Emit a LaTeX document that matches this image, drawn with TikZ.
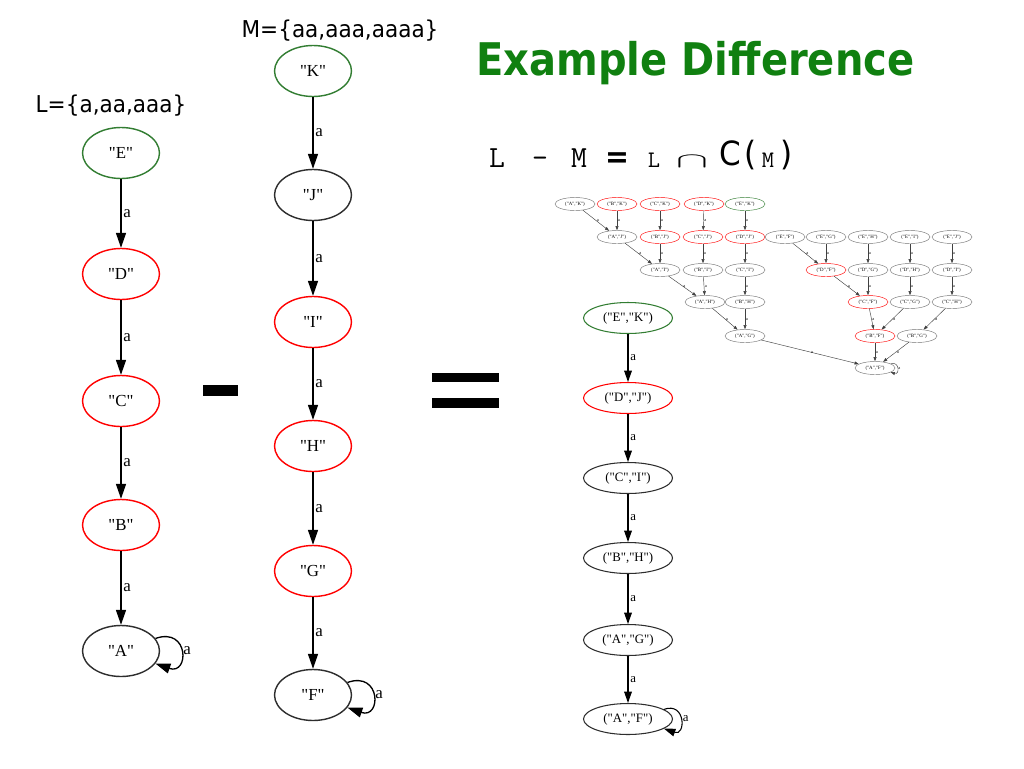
\documentclass[tikz,border=0pt]{standalone}
\usepackage{graphicx}
\usepackage{fontspec}
\setmainfont{Liberation Serif}[Ligatures=TeXOff]
\newfontfamily\labfont[FakeStretch=0.93]{DejaVu Sans}
\newfontfamily\headfont[FakeStretch=0.89]{DejaVu Sans}
\usepackage{tikz}
\usetikzlibrary{shapes.geometric}
\usetikzlibrary{arrows.meta}
\definecolor{titlegreen}{RGB}{16,128,16}
\definecolor{startgreen}{RGB}{50,125,50}
\definecolor{stateline}{RGB}{45,45,45}
\tikzset{state/.style={ellipse, draw=stateline, line width=0.8pt,
                       minimum width=15.4mm, minimum height=10.2mm, inner sep=0pt,
                       font=\fontsize{9.6}{10}\selectfont},
         accept/.style={draw=red},
         start/.style={draw=startgreen},
         pstate/.style={state, line width=0.6pt, minimum width=17.8mm,
                        minimum height=6.2mm, font=\fontsize{7.3}{8}\selectfont},
         tstate/.style={ellipse, draw=black!55, line width=0.25pt, minimum width=8mm,
                        minimum height=2.6mm, inner sep=0pt, font=\fontsize{2.8}{3}\selectfont},
         trans/.style={-{Triangle[length=8.5pt,width=5.7pt]}, line width=0.75pt},
         ptrans/.style={-{Triangle[length=6.5pt,width=4.4pt]}, line width=0.6pt},
         ttrans/.style={-{Triangle[length=2.4pt,width=1.7pt]}, line width=0.25pt, draw=black!75},
         lab/.style={right, inner sep=1pt, font=\fontsize{9.6}{10}\selectfont},
         plab/.style={right, inner sep=1pt, font=\fontsize{7.3}{8}\selectfont},
         tlab/.style={right, inner sep=0.4pt, font=\fontsize{2.5}{3}\selectfont},
         mono/.style={anchor=base, inner sep=0pt, font=\ttfamily\fontsize{17.5}{18}\selectfont},
         smallmono/.style={mono, font=\ttfamily\fontsize{13.5}{14}\selectfont},
         sans/.style={anchor=base, inner sep=0pt, font=\labfont\fontsize{19}{19}\selectfont}}

\begin{document}
\begin{tikzpicture}[x=0.02cm,y=-0.02cm]
\useasboundingbox[fill=white] (0,0) rectangle (1024,768);
% headings
\node[anchor=base west, inner sep=0pt, text=titlegreen, font=\headfont\bfseries\fontsize{25.6}{28}\selectfont] (title) at (476,75) {Example Difference};
\node[anchor=base, inner sep=0pt, font=\labfont\fontsize{13.2}{14}\selectfont] (lset) at (111,112) {L=\{a,aa,aaa\}};
\node[anchor=base, inner sep=0pt, font=\labfont\fontsize{13.2}{14}\selectfont] (mset) at (340,37) {M=\{aa,aaa,aaaa\}};
% L - M = L cap C(M)
\node[mono] (fl) at (497,167) {L};
\node[mono] (fminus) at (540,167) {-};
\node[mono] (fm) at (579,167) {M};
\node[sans, font=\labfont\bfseries\fontsize{17.5}{18}\selectfont] (feq) at (617,167) {=};
\node[smallmono] (fl2) at (654,167) {L};
\node[sans, font=\fontsize{18}{18}\selectfont] (fcap) at (692,167) {\scalebox{1.6}[0.7]{$\cap$}};
\node[sans] (fc) at (730,165) {C};
\node[sans] (fopen) at (751,165) {(};
\node[smallmono] (fm2) at (768,167) {M};
\node[sans] (fclose) at (787,165) {)};
% L
\node[state,start] (e) at (121,153) {"E"};
\node[state,accept] (d) at (121,274) {"D"};
\node[state,accept] (c) at (121,401) {"C"};
\node[state,accept] (b) at (121,525) {"B"};
\node[state] (a) at (121,651) {"A"};
\draw[trans] (e) -- (d) node[lab,midway] {a};
\draw[trans] (d) -- (c) node[lab,midway] {a};
\draw[trans] (c) -- (b) node[lab,midway] {a};
\draw[trans] (b) -- (a) node[lab,midway] {a};
\draw[trans] (a.20) .. controls +(34,-12) and +(34,12) .. (a.-20) node[lab,pos=0.5] {a};
% minus, equals
\fill (203,385) rectangle (238,396);
\fill (432,373) rectangle (499,382);
\fill (432,398) rectangle (499,408);
% M
\node[state,start] (k) at (313,71) {"K"};
\node[state] (j) at (313,195) {"J"};
\node[state,accept] (i) at (313,322) {"I"};
\node[state,accept] (h) at (313,446) {"H"};
\node[state,accept] (g) at (313,571) {"G"};
\node[state] (f) at (313,695) {"F"};
\draw[trans] (k) -- (j) node[lab,midway] {a};
\draw[trans] (j) -- (i) node[lab,midway] {a};
\draw[trans] (i) -- (h) node[lab,midway] {a};
\draw[trans] (h) -- (g) node[lab,midway] {a};
\draw[trans] (g) -- (f) node[lab,midway] {a};
\draw[trans] (f.20) .. controls +(34,-12) and +(34,12) .. (f.-20) node[lab,pos=0.5] {a};
% L - M
\node[pstate,start] (pEK) at (628,318) {("E","K")};
\node[pstate,accept] (pDJ) at (628,398) {("D","J")};
\node[pstate] (pCI) at (628,478) {("C","I")};
\node[pstate] (pBH) at (628,558) {("B","H")};
\node[pstate] (pAG) at (628,640) {("A","G")};
\node[pstate] (pAF) at (628,719) {("A","F")};
\draw[ptrans] (pEK) -- (pDJ) node[plab,midway] {a};
\draw[ptrans] (pDJ) -- (pCI) node[plab,midway] {a};
\draw[ptrans] (pCI) -- (pBH) node[plab,midway] {a};
\draw[ptrans] (pBH) -- (pAG) node[plab,midway] {a};
\draw[ptrans] (pAG) -- (pAF) node[plab,midway] {a};
\draw[ptrans] (pAF.15) .. controls +(22,-8) and +(22,8) .. (pAF.-15) node[plab,pos=0.5] {a};
% full product
\node[tstate] (tAK) at (575,204) {("A","K")};
\node[tstate,accept] (tBK) at (617,204) {("B","K")};
\node[tstate,accept] (tCK) at (660,204) {("C","K")};
\node[tstate,accept] (tDK) at (704,204) {("D","K")};
\node[tstate,start] (tEK) at (745,204) {("E","K")};
\node[tstate] (tAJ) at (617,237) {("A","J")};
\node[tstate,accept] (tBJ) at (660,237) {("B","J")};
\node[tstate,accept] (tCJ) at (703,237) {("C","J")};
\node[tstate,accept] (tDJ) at (745,237) {("D","J")};
\node[tstate] (tAI) at (660,270) {("A","I")};
\node[tstate] (tBI) at (703,270) {("B","I")};
\node[tstate] (tCI) at (745,270) {("C","I")};
\node[tstate] (tAH) at (705,302) {("A","H")};
\node[tstate] (tBH) at (745,302) {("B","H")};
\node[tstate] (tAG) at (745,336) {("A","G")};
\node[tstate] (tEF) at (785,237) {("E","F")};
\node[tstate] (tEG) at (826,237) {("E","G")};
\node[tstate] (tEH) at (868,237) {("E","H")};
\node[tstate] (tEI) at (910,237) {("E","I")};
\node[tstate] (tEJ) at (952,237) {("E","J")};
\node[tstate,accept] (tDF) at (826,270) {("D","F")};
\node[tstate] (tDG) at (868,270) {("D","G")};
\node[tstate] (tDH) at (910,270) {("D","H")};
\node[tstate] (tDI) at (952,270) {("D","I")};
\node[tstate,accept] (tCF) at (868,302) {("C","F")};
\node[tstate] (tCG) at (910,302) {("C","G")};
\node[tstate] (tCH) at (952,302) {("C","H")};
\node[tstate,accept] (tBF) at (875,336) {("B","F")};
\node[tstate] (tBG) at (917,336) {("B","G")};
\node[tstate] (tAF) at (875,368) {("A","F")};
\draw[ttrans] (tAK) -- (tAJ) node[tlab,midway] {a};
\draw[ttrans] (tBK) -- (tAJ) node[tlab,midway] {a};
\draw[ttrans] (tCK) -- (tBJ) node[tlab,midway] {a};
\draw[ttrans] (tDK) -- (tCJ) node[tlab,midway] {a};
\draw[ttrans] (tEK) -- (tDJ) node[tlab,midway] {a};
\draw[ttrans] (tAJ) -- (tAI) node[tlab,midway] {a};
\draw[ttrans] (tBJ) -- (tAI) node[tlab,midway] {a};
\draw[ttrans] (tCJ) -- (tBI) node[tlab,midway] {a};
\draw[ttrans] (tDJ) -- (tCI) node[tlab,midway] {a};
\draw[ttrans] (tAI) -- (tAH) node[tlab,midway] {a};
\draw[ttrans] (tBI) -- (tAH) node[tlab,midway] {a};
\draw[ttrans] (tCI) -- (tBH) node[tlab,midway] {a};
\draw[ttrans] (tAH) -- (tAG) node[tlab,midway] {a};
\draw[ttrans] (tBH) -- (tAG) node[tlab,midway] {a};
\draw[ttrans] (tAG) -- (tAF) node[tlab,midway] {a};
\draw[ttrans] (tEF) -- (tDF) node[tlab,midway] {a};
\draw[ttrans] (tEG) -- (tDF) node[tlab,midway] {a};
\draw[ttrans] (tEH) -- (tDG) node[tlab,midway] {a};
\draw[ttrans] (tEI) -- (tDH) node[tlab,midway] {a};
\draw[ttrans] (tEJ) -- (tDI) node[tlab,midway] {a};
\draw[ttrans] (tDF) -- (tCF) node[tlab,midway] {a};
\draw[ttrans] (tDG) -- (tCF) node[tlab,midway] {a};
\draw[ttrans] (tDH) -- (tCG) node[tlab,midway] {a};
\draw[ttrans] (tDI) -- (tCH) node[tlab,midway] {a};
\draw[ttrans] (tCF) -- (tBF) node[tlab,midway] {a};
\draw[ttrans] (tCG) -- (tBF) node[tlab,midway] {a};
\draw[ttrans] (tCH) -- (tBG) node[tlab,midway] {a};
\draw[ttrans] (tBF) -- (tAF) node[tlab,midway] {a};
\draw[ttrans] (tBG) -- (tAF) node[tlab,midway] {a};
\draw[ttrans] (tAF.15) .. controls +(9,-3) and +(9,3) .. (tAF.-15) node[tlab,pos=0.5] {a};
\end{tikzpicture}
\end{document}
